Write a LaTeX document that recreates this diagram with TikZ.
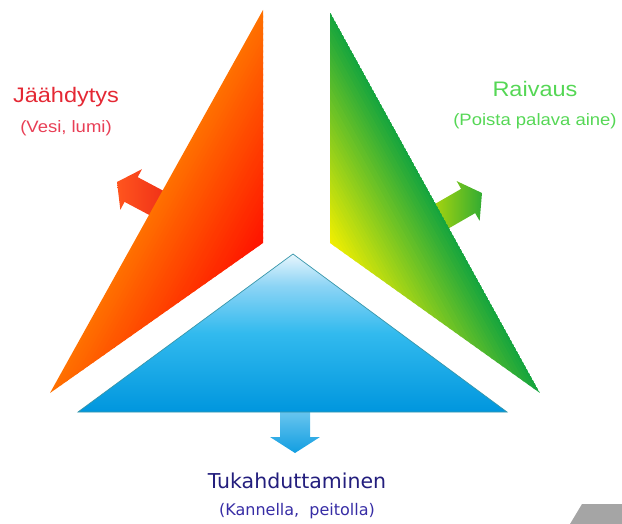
\documentclass[tikz,border=0pt]{standalone}
\usepackage{fontspec}
\setmainfont{Liberation Sans}
\newfontfamily\widefont[FakeStretch=1.12]{Liberation Sans}
\newfontfamily\roundfont{DejaVu Sans}
\usetikzlibrary{positioning,calc}

\definecolor{coolorange}{RGB}{255,112,0}
\definecolor{coolred}{RGB}{255,18,0}
\definecolor{coolarrowtip}{RGB}{255,85,30}
\definecolor{coolarrowtail}{RGB}{232,30,20}
\definecolor{coolink}{RGB}{228,40,52}
\definecolor{coolnoteink}{RGB}{232,62,85}
\definecolor{clearyellow}{RGB}{245,240,0}
\definecolor{cleargreen}{RGB}{22,165,62}
\definecolor{cleararrowtip}{RGB}{50,172,50}
\definecolor{cleararrowtail}{RGB}{215,228,0}
\definecolor{clearink}{RGB}{85,215,85}
\definecolor{smothertop}{RGB}{232,246,253}
\definecolor{smotherlight}{RGB}{140,212,245}
\definecolor{smothermid}{RGB}{50,186,238}
\definecolor{smotherbottom}{RGB}{0,150,222}
\definecolor{smotherrim}{RGB}{55,150,170}
\definecolor{smotherarrowtop}{RGB}{145,215,245}
\definecolor{smotherarrowtip}{RGB}{18,158,225}
\definecolor{smotherink}{RGB}{35,30,125}
\definecolor{smothernoteink}{RGB}{55,45,165}
\definecolor{cornergray}{RGB}{165,165,165}

\pgfdeclareverticalshading{smothershade}{100bp}{color(0bp)=(smotherbottom); color(25bp)=(smotherbottom);
  color(50bp)=(smothermid); color(65bp)=(smotherlight); color(75bp)=(smothertop); color(100bp)=(smothertop)}

\begin{document}
\begin{tikzpicture}[x=1pt,y=-1pt,
  heading/.style={font=\widefont\fontsize{21}{24}\selectfont, inner sep=0pt, anchor=base},
  note/.style={font=\widefont\fontsize{16.5}{19}\selectfont, inner sep=0pt},
  rim/.style={draw=smotherrim, line width=0.7pt}]
  \useasboundingbox (0,0) rectangle (622,524);

  % arrows first, the triangles hide their tails
  \coordinate (coolarrow) at (117,182);
  \coordinate (cleararrow) at (482,193);
  \coordinate (smotherarrow) at (295,453);
  \begin{scope}[shift={(coolarrow)}, rotate=152]
    \shade[left color=coolarrowtip, right color=coolarrowtail]
      (0,0) -- (-16,-23) -- (-16,-14) -- (-75,-14) -- (-75,14) -- (-16,14) -- (-16,23) -- cycle;
  \end{scope}
  \begin{scope}[shift={(cleararrow)}, rotate=30]
    \shade[left color=cleararrowtail, right color=cleararrowtip]
      (0,0) -- (-16,-23) -- (-16,-14) -- (-70,-14) -- (-70,14) -- (-16,14) -- (-16,23) -- cycle;
  \end{scope}
  \shade[top color=smotherarrowtop, bottom color=smotherarrowtip]
    (smotherarrow) -- ++(-25,-16) -- ++(10,0) -- ++(0,-45) -- ++(30,0) -- ++(0,45) -- ++(10,0) -- cycle;

  % the three parts
  \coordinate (redtop) at (263,10);
  \coordinate (redcorner) at (263,243);
  \coordinate (redtip) at (50,393);
  \coordinate (redfoot) at ($(redtop)!(redcorner)!(redtip)$);
  \coordinate (redshift) at ($(redcorner)-(redfoot)$);
  \begin{scope}
    \clip (redtop) -- (redcorner) -- (redtip) -- cycle;
    \foreach \s in {0,...,39} {
      \pgfmathtruncatemacro\pct{100-2.5*\s}
      \pgfmathsetmacro\a{\s/40}
      \pgfmathsetmacro\b{(\s+1.3)/40}
      \fill[coolorange!\pct!coolred] ($(redtop)+\a*(redshift)$) -- ($(redtip)+\a*(redshift)$)
        -- ($(redtip)+\b*(redshift)$) -- ($(redtop)+\b*(redshift)$) -- cycle;
    }
  \end{scope}

  \coordinate (greentop) at (330,12);
  \coordinate (greencorner) at (330,243);
  \coordinate (greentip) at (540,393);
  \coordinate (greenfoot) at ($(greentop)!(greencorner)!(greentip)$);
  \coordinate (greenshift) at ($(greencorner)-(greenfoot)$);
  \begin{scope}
    \clip (greentop) -- (greencorner) -- (greentip) -- cycle;
    \foreach \s in {0,...,39} {
      \pgfmathtruncatemacro\pct{100-2.5*\s}
      \pgfmathsetmacro\a{\s/40}
      \pgfmathsetmacro\b{(\s+1.3)/40}
      \fill[cleargreen!\pct!clearyellow] ($(greentop)+\a*(greenshift)$) -- ($(greentip)+\a*(greenshift)$)
        -- ($(greentip)+\b*(greenshift)$) -- ($(greentop)+\b*(greenshift)$) -- cycle;
    }
  \end{scope}

  \coordinate (bluetop) at (293,254);
  \coordinate (blueleft) at (78,412);
  \coordinate (blueright) at (507,412);
  \shade[rim, shading=smothershade]
    (bluetop) -- (blueright) -- (blueleft) -- cycle;

  % labels
  \node[heading, text=coolink] (cooling) at (66,103) {Jäähdytys};
  \node[note, text=coolnoteink, below=17pt of cooling.base] (coolingnote) {(Vesi, lumi)};
  \node[heading, text=clearink] (clearing) at (535,97) {Raivaus};
  \node[note, text=clearink, below=16pt of clearing.base] (clearingnote) {(Poista palava aine)};
  \node[heading, font=\roundfont\fontsize{20.5}{24}\selectfont, text=smotherink] (smothering) at (297,488) {Tukahduttaminen};
  \node[note, font=\roundfont\fontsize{16}{19}\selectfont, text=smothernoteink, below=15pt of smothering.base] (smotheringnote) {(Kannella,\ \ peitolla)};

  % corner of the next slide
  \fill[cornergray] (582,504) -- (622,504) -- (622,524) -- (570,524) -- cycle;
\end{tikzpicture}
\end{document}
